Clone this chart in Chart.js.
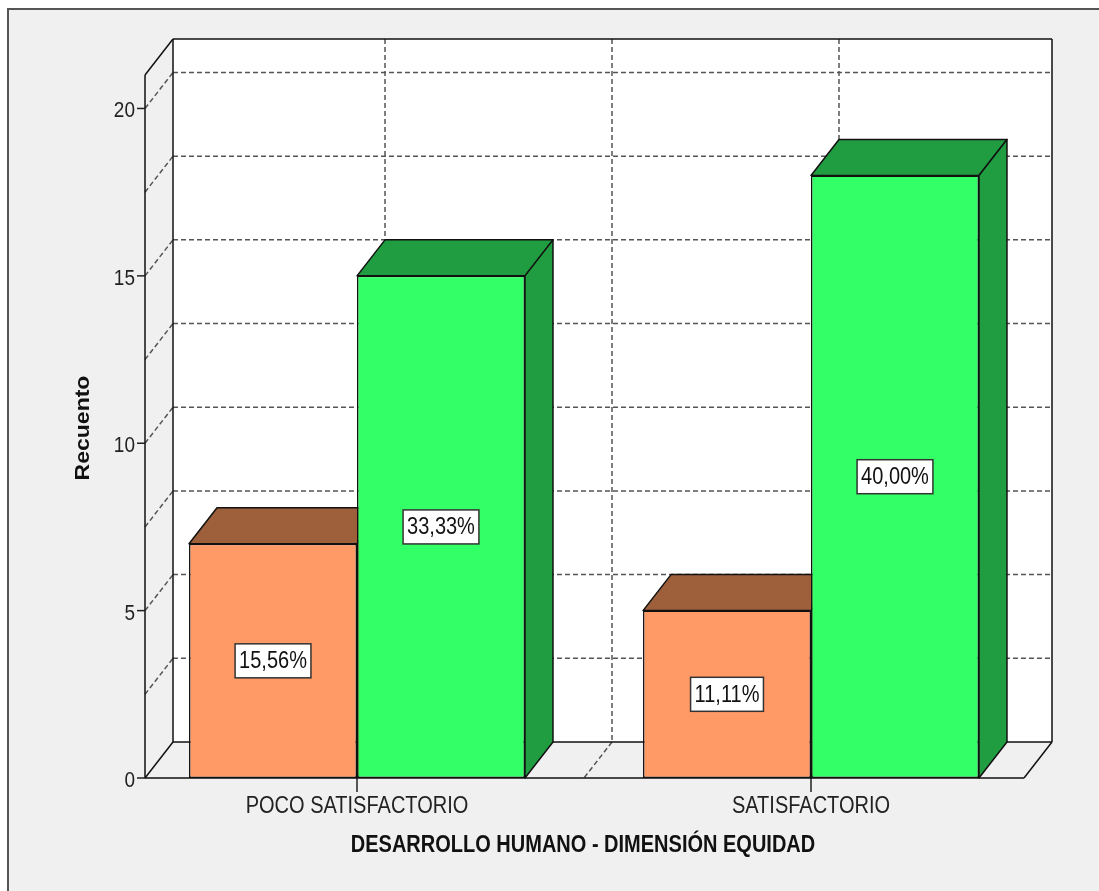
<!DOCTYPE html>
<html>
<head>
<meta charset="utf-8">
<script src="https://cdn.jsdelivr.net/npm/chart.js@4/dist/chart.umd.min.js"></script>
<style>
  html, body { margin: 0; padding: 0; background: #ffffff; }
  canvas { display: block; }
</style>
</head>
<body>
<canvas id="grafico" width="1099" height="891"></canvas>
<script>
// categorias y recuentos por serie
const categorias = ["POCO SATISFACTORIO", "SATISFACTORIO"];
const serieNaranja = [7, 5];
const serieVerde = [15, 18];
const marcasY = [0, 5, 10, 15, 20];
const lineasGuia = [2.5, 5, 7.5, 10, 12.5, 15, 17.5, 20];
const tituloY = "Recuento";
const tituloX = "DESARROLLO HUMANO - DIMENSIÓN EQUIDAD";

const total = serieNaranja.concat(serieVerde).reduce((a, b) => a + b, 0);

// profundidad de la caja 3D
const DX = 28, DY = 36;
const PARED_IZQ = 145, PARED_DER = 1024;
const ESTIRAR = 1.15; // el texto sale algo alto

function texto(ctx, txt, x, y, font, align, color) {
    ctx.save();
    ctx.translate(x, y);
    ctx.scale(1, ESTIRAR);
    ctx.font = font;
    ctx.fillStyle = color || "#222";
    ctx.textAlign = align;
    ctx.textBaseline = "middle";
    ctx.fillText(txt, 0, 0);
    ctx.restore();
}

function linea(ctx, x1, y1, x2, y2, dash, color, ancho) {
    ctx.save();
    ctx.beginPath();
    ctx.setLineDash(dash || []);
    ctx.strokeStyle = color || "#111";
    ctx.lineWidth = ancho || 1.5;
    ctx.moveTo(x1, y1);
    ctx.lineTo(x2, y2);
    ctx.stroke();
    ctx.restore();
}

function poligono(ctx, pts, relleno) {
    ctx.save();
    ctx.beginPath();
    ctx.moveTo(pts[0][0], pts[0][1]);
    for (let i = 1; i < pts.length; i++) ctx.lineTo(pts[i][0], pts[i][1]);
    ctx.closePath();
    ctx.fillStyle = relleno;
    ctx.fill();
    ctx.strokeStyle = "#111";
    ctx.lineWidth = 1.5;
    ctx.lineJoin = "round";
    ctx.stroke();
    ctx.restore();
}

const caja3D = {
    id: "caja3D",
    beforeDraw(chart) {
        const ctx = chart.ctx;
        ctx.save();
        ctx.fillStyle = "#ffffff";
        ctx.fillRect(0, 0, chart.width, chart.height);
        ctx.fillStyle = "#f0f0f0";
        ctx.fillRect(8, 9, chart.width, chart.height);
        ctx.strokeStyle = "#555";
        ctx.lineWidth = 2;
        ctx.strokeRect(8, 9, chart.width + 20, chart.height + 20);
        ctx.restore();
    },
    beforeDatasetsDraw(chart) {
        const ctx = chart.ctx;
        const y = chart.scales.y, x = chart.scales.x;
        const yTop = y.getPixelForValue(y.max), y0 = y.getPixelForValue(0);

        // pared del fondo
        ctx.fillStyle = "#ffffff";
        ctx.fillRect(PARED_IZQ + DX, yTop - DY, PARED_DER - PARED_IZQ, y0 - yTop);

        // lineas guia en el fondo y en la pared izquierda
        lineasGuia.forEach((v) => {
            const py = y.getPixelForValue(v);
            linea(ctx, PARED_IZQ + DX, py - DY, PARED_DER + DX, py - DY, [5, 3], "#555", 1.5);
            linea(ctx, PARED_IZQ, py, PARED_IZQ + DX, py - DY, [5, 3], "#555", 1.5);
        });

        // divisiones de categorias en el fondo y el piso
        const px = categorias.map((c, i) => x.getPixelForValue(i));
        const medio = (px[0] + px[1]) / 2;
        [px[0], medio, px[1]].forEach((p) => {
            linea(ctx, p + DX, yTop - DY, p + DX, y0 - DY, [5, 3], "#555", 1.5);
        });
        linea(ctx, medio + DX, y0 - DY, medio, y0, [5, 3], "#555", 1.5);

        // aristas de la caja
        linea(ctx, PARED_IZQ + DX, yTop - DY, PARED_DER + DX, yTop - DY);
        linea(ctx, PARED_DER + DX, yTop - DY, PARED_DER + DX, y0 - DY);
        linea(ctx, PARED_IZQ + DX, yTop - DY, PARED_IZQ + DX, y0 - DY);
        linea(ctx, PARED_IZQ + DX, y0 - DY, PARED_DER + DX, y0 - DY);
        linea(ctx, PARED_IZQ, yTop, PARED_IZQ + DX, yTop - DY);
        linea(ctx, PARED_IZQ, y0, PARED_IZQ + DX, y0 - DY);
        linea(ctx, PARED_DER, y0, PARED_DER + DX, y0 - DY);
        linea(ctx, PARED_IZQ, yTop, PARED_IZQ, y0);
        linea(ctx, PARED_IZQ, y0, PARED_DER, y0);

        // marcas y etiquetas del eje Y
        marcasY.forEach((v) => {
            const py = y.getPixelForValue(v);
            linea(ctx, PARED_IZQ - 8, py, PARED_IZQ, py, null, "#222", 1.5);
            texto(ctx, String(v), PARED_IZQ - 10, py + 3, "19px 'Liberation Sans', Arial, sans-serif", "right", "#222");
        });

        // marcas y etiquetas del eje X
        categorias.forEach((c, i) => {
            linea(ctx, px[i], y0, px[i], y0 + 14, null, "#222", 1.5);
            texto(ctx, c, px[i], y0 + 29, "20px 'Liberation Sans', Arial, sans-serif", "center", "#222");
        });

        // caras superior y lateral de cada barra
        const sombras = ["#9e5f3b", "#209d40"];
        [0, 1].forEach((d) => {
            chart.getDatasetMeta(d).data.forEach((bar) => {
                const l = bar.x - bar.width / 2, r = bar.x + bar.width / 2;
                poligono(ctx, [[l, bar.y], [l + DX, bar.y - DY], [r + DX, bar.y - DY], [r, bar.y]], sombras[d]);
                poligono(ctx, [[r, bar.y], [r + DX, bar.y - DY], [r + DX, bar.base - DY], [r, bar.base]], sombras[d]);
            });
        });
    },
    afterDatasetsDraw(chart) {
        const ctx = chart.ctx;
        [0, 1].forEach((d) => {
            const valores = chart.data.datasets[d].data;
            chart.getDatasetMeta(d).data.forEach((bar, i) => {
                const pct = (valores[i] / total * 100).toFixed(2).replace(".", ",") + "%";
                const cy = (bar.y + bar.base) / 2;
                ctx.save();
                ctx.font = "20px 'Liberation Sans', Arial, sans-serif";
                const w = ctx.measureText(pct).width + 8;
                const h = 34;
                ctx.fillStyle = "#ffffff";
                ctx.fillRect(bar.x - w / 2, cy - h / 2, w, h);
                ctx.strokeStyle = "#333";
                ctx.lineWidth = 1.5;
                ctx.strokeRect(bar.x - w / 2, cy - h / 2, w, h);
                ctx.restore();
                texto(ctx, pct, bar.x, cy + 1, "20px 'Liberation Sans', Arial, sans-serif", "center", "#111");
            });
        });
    },
    afterDraw(chart) {
        const ctx = chart.ctx;
        texto(ctx, tituloX, 583, 846, "bold 20px 'Liberation Sans', Arial, sans-serif", "center", "#111");
        ctx.save();
        ctx.translate(83, 428);
        ctx.rotate(-Math.PI / 2);
        ctx.scale(ESTIRAR, 1);
        ctx.font = "bold 20px 'Liberation Sans', Arial, sans-serif";
        ctx.fillStyle = "#111";
        ctx.textAlign = "center";
        ctx.textBaseline = "middle";
        ctx.fillText(tituloY, 0, 0);
        ctx.restore();
    }
};

new Chart(document.getElementById("grafico"), {
    type: "bar",
    data: {
        labels: categorias,
        datasets: [
            { data: serieNaranja, backgroundColor: "#ff9966", borderColor: "#111", borderWidth: 1.5, borderSkipped: false },
            { data: serieVerde, backgroundColor: "#33ff66", borderColor: "#111", borderWidth: 1.5, borderSkipped: false }
        ]
    },
    options: {
        responsive: false,
        animation: false,
        devicePixelRatio: 1,
        layout: { padding: { left: 130, right: 61, top: 75, bottom: 113 } },
        datasets: { bar: { barPercentage: 1, categoryPercentage: 0.74 } },
        plugins: { legend: { display: false }, tooltip: { enabled: false } },
        scales: {
            x: { display: false, offset: true },
            y: { display: false, min: 0, max: 21 }
        }
    },
    plugins: [caja3D]
});
</script>
</body>
</html>
